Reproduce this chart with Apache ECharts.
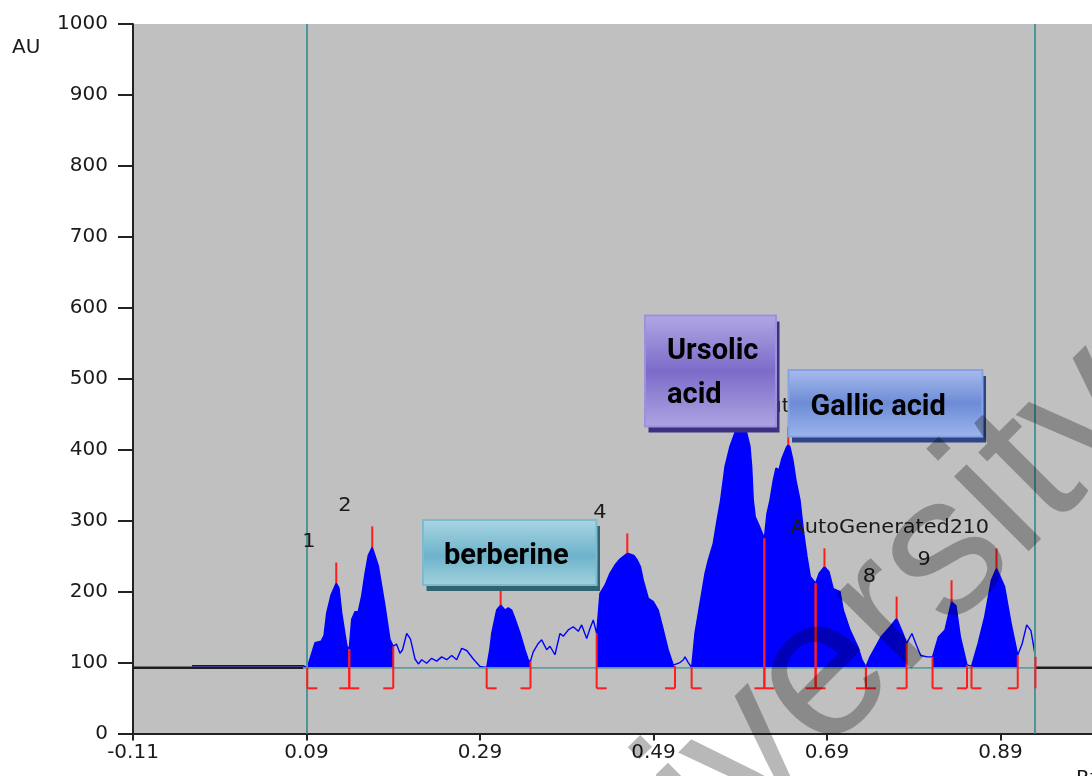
<!DOCTYPE html>
<html><head><meta charset="utf-8">
<script src="https://cdn.jsdelivr.net/npm/echarts@6/dist/echarts.min.js"></script>
<style>html,body{margin:0;padding:0;background:#fff}#c{width:1092px;height:776px}</style>
</head><body><div id="c"></div>
<script>
// ---- data (Rf vs AU densitogram trace) ----
const rf = [-0.0420,0.0860,0.0909,0.0940,0.0998,0.1067,0.1102,0.1133,0.1182,0.1243,0.1275,0.1306,0.1344,0.1367,0.1393,
0.1421,0.1459,0.1497,0.1536,0.1574,0.1612,0.1658,0.1728,0.1805,0.1862,0.1900,
0.1937,0.1978,0.2007,0.2055,0.2099,0.2151,0.2189,0.2228,0.2285,0.2343,0.2401,0.2458,0.2516,0.2574,0.2631,0.2689,0.2747,0.2823,0.2900,
0.2977,0.3015,0.3035,0.3092,0.3138,0.3188,0.3226,0.3265,0.3303,0.3361,0.3419,0.3457,0.3482,
0.3514,0.3572,0.3611,0.3669,0.3707,0.3764,0.3822,0.3860,0.3918,0.3975,0.4033,0.4072,0.4130,0.4168,0.4206,
0.4245,0.4283,0.4341,0.4398,0.4456,0.4514,0.4598,0.4674,0.4710,0.4750,0.4782,0.4840,0.4898,0.4955,0.5013,0.5070,0.5128,0.5148,
0.5205,0.5243,0.5263,0.5301,
0.5340,0.5378,0.5436,0.5494,0.5532,0.5589,0.5632,0.5674,0.5724,0.5782,0.5839,0.5903,0.5974,0.6012,0.6032,0.6050,0.6073,0.6124,0.6178,
0.6208,0.6243,0.6281,0.6312,0.6347,0.6381,0.6435,0.6454,0.6473,0.6508,0.6542,0.6589,0.6632,0.6669,0.6708,0.6769,
0.6810,0.6871,0.6923,0.6972,0.7050,0.7088,0.7165,0.7257,0.7303,0.7349,
0.7396,0.7522,0.7626,0.7703,0.7776,0.7818,
0.7879,0.7929,0.7980,0.8057,
0.8117,0.8184,0.8260,0.8336,0.8387,0.8438,0.8514,0.8537,
0.8566,0.8642,0.8718,0.8795,0.8854,0.8947,0.9023,0.9099,
0.9151,0.9202,0.9251,0.9303,0.9304];
const au = [95.5,95.5,93,105,128,130,138,170,195,212,205,170,140,123,119,
161,171.5,172,194,225,251,262.7,236.6,180,132.6,123,
126,113,118,141,133,105,98,104,99,106,102,108,104,110,104,120,117,105,94.5,
93,120,141,174,181,174,177,174,162,141.6,117.7,103.6,102,
115,127,132,118,123,111,141,137,146,150.5,144,153,134,148,160,
141,197.6,209,225.8,237.5,246,254,251,245,235,216,190.6,185.8,174,146,117.7,96.5,95,
100,103.6,108,100,
93,141,183.5,225.8,244.5,268,300,329,376,405,424,445,424,405,376,329,305.6,291.5,275,
310,329,357,374,372,388,404,407,404,385,357,329,282,250,221,211.7,
225.8,235,228,204,200,174,146,122,104,94,
108,136,150.5,162,141,127,
141,125,110,108,
108,136,146,185.8,180,136,96.5,94,
95,127,164.6,216,232.8,207,155,110.6,
127,153,145,108,93];

const xTicks = [-0.11, 0.09, 0.29, 0.49, 0.69, 0.89];
const peakStart   = [0.0909,0.1393,0.2977,0.4245,0.5340,0.6178,0.6769,0.7349,0.8117,0.8566];
const peakEnd     = [0.1393,0.1900,0.3482,0.5148,0.6178,0.6769,0.7349,0.7818,0.8514,0.9099];
const peakApex    = [0.1243,0.1658,0.3138,0.4598,0.5903,0.6454,0.6871,0.7703,0.8336,0.8854];
const peakMarkTop = [241,292,230,282,480,432,261,193,216,261];
const peakLabel   = ['1','2','3','4','5','AutoGenerated1','AutoGenerated2','8','9','10'];
const endMarks = [0.9303];
const frontLines = [0.0864, 0.9300];
const baseAU = 92.5;
const bracketAU = 63.7;
const xMin = -0.11, xMax = 0.9955;

// ---- helpers ----
const pts = rf.map((x, i) => [x, au[i]]);
function traceAt(x) {
  for (let i = 0; i < rf.length - 1; i++) {
    if (x >= rf[i] - 1e-9 && x <= rf[i + 1] + 1e-9) {
      const t = (rf[i + 1] - rf[i]) ? (x - rf[i]) / (rf[i + 1] - rf[i]) : 0;
      return au[i] + t * (au[i + 1] - au[i]);
    }
  }
  return baseAU;
}
const marks = [];
peakStart.forEach((s, i) => {
  marks.push([s, traceAt(s), bracketAU, 1]);
  marks.push([peakEnd[i], traceAt(peakEnd[i]), bracketAU, -1]);
  marks.push([peakApex[i], peakMarkTop[i], traceAt(peakApex[i]), 0]);
});
endMarks.forEach(x => marks.push([x, traceAt(x), bracketAU, 0]));

const fillSeries = peakStart.map((s, i) => ({
  type: 'line', symbol: 'none', silent: true, z: 2,
  data: pts.filter(p => p[0] >= s - 1e-9 && p[0] <= peakEnd[i] + 1e-9),
  lineStyle: { width: 0 },
  areaStyle: { color: '#0000ff', opacity: 1, origin: baseAU }
}));

function box(x, y, w, h, stops, border, shadow, lines, tx, ty, lh) {
  const els = [
    { type: 'rect', z: 100, shape: { x: x + 3.5, y: y + 6, width: w, height: h }, style: { fill: shadow } },
    { type: 'rect', z: 101, shape: { x: x, y: y, width: w, height: h },
      style: { fill: { type: 'linear', x: 0, y: 0, x2: 0, y2: 1, colorStops: stops }, stroke: border, lineWidth: 2 } }
  ];
  lines.forEach((t, i) => els.push({ type: 'text', z: 102, x: tx, y: ty + i * lh,
    style: { text: t, font: 'bold 29px Roboto', fill: '#000', textAlign: 'left', textVerticalAlign: 'middle' } }));
  return els;
}

const chart = echarts.init(document.getElementById('c'), null, { renderer: 'canvas' });
chart.setOption({
  animation: false,
  backgroundColor: '#ffffff',
  grid: { left: 133, right: 0, top: 24, bottom: 42.5, show: true, backgroundColor: '#c0c0c0', borderWidth: 0 },
  xAxis: {
    type: 'value', min: xMin, max: xMax,
    axisLine: { show: true, onZero: false, lineStyle: { color: '#222', width: 2 } },
    axisTick: { show: true, customValues: xTicks, length: 7, lineStyle: { color: '#222', width: 2 } },
    axisLabel: { customValues: xTicks, formatter: v => v.toFixed(2), margin: 9,
      fontFamily: 'DejaVu Sans', fontSize: 20, color: '#1a1a1a' },
    splitLine: { show: false }
  },
  yAxis: {
    type: 'value', min: 0, max: 1000, interval: 100,
    axisLine: { show: true, onZero: false, lineStyle: { color: '#222', width: 2 } },
    axisTick: { show: true, length: 15, lineStyle: { color: '#222', width: 2 } },
    axisLabel: { margin: 25, formatter: v => String(v), fontFamily: 'DejaVu Sans', fontSize: 20, color: '#1a1a1a' },
    splitLine: { show: false }
  },
  series: [
    ...fillSeries,
    { type: 'line', symbol: 'none', silent: true, z: 3, data: pts,
      lineStyle: { color: '#0000ff', width: 1.4 } },
    { type: 'line', symbol: 'none', silent: true, z: 4,
      data: [[xMin, baseAU], [frontLines[0], baseAU]], lineStyle: { color: '#1e1e1e', width: 2.5 } },
    { type: 'line', symbol: 'none', silent: true, z: 4,
      data: [[frontLines[1], baseAU], [xMax, baseAU]], lineStyle: { color: '#1e1e1e', width: 2.5 } },
    { type: 'line', symbol: 'none', silent: true, z: 4,
      data: [[frontLines[0], baseAU], [frontLines[1], baseAU]], lineStyle: { color: '#5e9e9e', width: 1.6 },
      markLine: { symbol: 'none', silent: true, animation: false, label: { show: false },
        lineStyle: { color: '#4e9696', width: 2, type: 'solid' },
        data: frontLines.map(x => ({ xAxis: x })) } },
    { type: 'custom', z: 5, silent: true, data: marks, encode: { x: 0, y: [1, 2] },
      renderItem: function (params, api) {
        const x = api.value(0), y1 = api.value(1), y2 = api.value(2), f = api.value(3);
        const a = api.coord([x, y1]), b = api.coord([x, y2]);
        const ch = [{ type: 'line', shape: { x1: a[0], y1: a[1], x2: b[0], y2: b[1] }, style: { stroke: '#ff1c1c', lineWidth: 2 } }];
        if (f !== 0) ch.push({ type: 'line', shape: { x1: b[0], y1: b[1], x2: b[0] + f * 10, y2: b[1] }, style: { stroke: '#ff1c1c', lineWidth: 2 } });
        return { type: 'group', children: ch };
      } },
    { type: 'custom', z: 6, silent: true, data: peakApex.map((x, i) => [x, peakMarkTop[i]]), encode: { x: 0, y: 1 },
      renderItem: function (params, api) {
        const p = api.coord([api.value(0), api.value(1)]);
        return { type: 'text', x: p[0] - 34, y: p[1] - 20, scaleX: 1.1,
          style: { text: peakLabel[params.dataIndex], font: '19px "DejaVu Sans"', fill: '#1a1a1a',
            textAlign: 'left', textVerticalAlign: 'middle' } };
      } }
  ],
  graphic: [
    { type: 'text', z: 50, x: 12, y: 48, style: { text: 'AU', font: '20px "DejaVu Sans"', fill: '#1a1a1a', textAlign: 'left', textVerticalAlign: 'middle' } },
    { type: 'text', z: 50, x: 1076, y: 769, style: { text: 'Rf', font: '20px "DejaVu Sans"', fill: '#1a1a1a', textAlign: 'left', textVerticalAlign: 'top' } },
    ...box(423, 520, 173.5, 65,
      [{ offset: 0, color: '#aad6e3' }, { offset: 0.55, color: '#6db3cb' }, { offset: 1, color: '#a3d2de' }],
      '#7cbad0', '#2f6470', ['berberine'], 444, 557, 0),
    ...box(645, 315.5, 131, 111,
      [{ offset: 0, color: '#b0a8e4' }, { offset: 0.5, color: '#7d6bc9' }, { offset: 1, color: '#aea5e2' }],
      '#9c91da', '#3c3080', ['Ursolic', 'acid'], 667, 352, 43.3),
    ...box(788.5, 370, 194, 66.5,
      [{ offset: 0, color: '#a8bced' }, { offset: 0.5, color: '#6d8cd6' }, { offset: 1, color: '#9db5ec' }],
      '#85a3e4', '#2e4486', ['Gallic acid'], 810.5, 408, 0),
    { type: 'text', z: 200, x: 501, y: 1001, rotation: 45 * Math.PI / 180,
      style: { text: 'University', font: '200px "Liberation Sans"', fill: 'rgba(0,0,0,0.28)', textAlign: 'left', textVerticalAlign: 'middle' } }
  ]
});
</script></body></html>
